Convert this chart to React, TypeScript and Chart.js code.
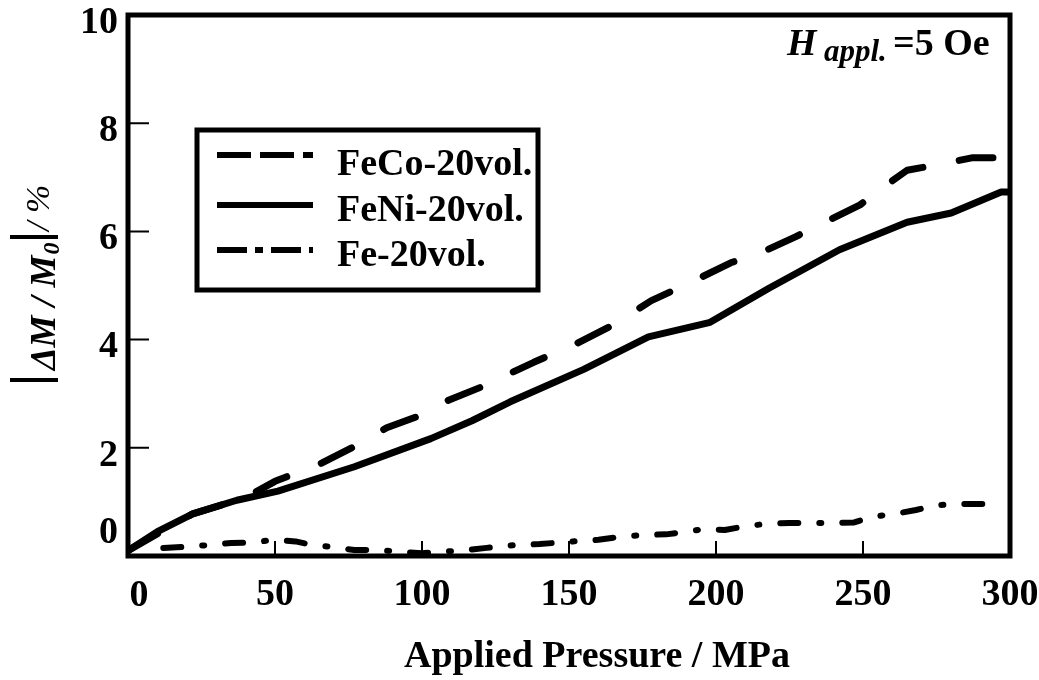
import React, { useEffect, useRef } from 'react';
import { Chart, registerables } from 'chart.js';

Chart.register(...registerables);

// ---- data ----
const feCoX = [0, 22, 40, 50, 66, 78, 88, 98, 109, 120, 138, 153, 165, 178, 193, 205, 215, 227, 237, 249, 257, 265, 275, 287, 300];
const feCoY = [0.1, 0.78, 1.08, 1.38, 1.72, 2.05, 2.37, 2.57, 2.88, 3.12, 3.58, 3.94, 4.27, 4.72, 5.1, 5.42, 5.6, 5.9, 6.17, 6.49, 6.82, 7.13, 7.23, 7.36, 7.36];

const feNiX = [0, 10, 22, 37, 51, 77, 103, 117, 130, 155, 177, 198, 218, 242, 265, 280, 297, 300];
const feNiY = [0.1, 0.45, 0.78, 1.03, 1.2, 1.65, 2.17, 2.5, 2.85, 3.45, 4.05, 4.32, 4.95, 5.66, 6.17, 6.34, 6.73, 6.73];

const feX = [12, 20, 27, 35, 42, 50, 57, 63, 69, 77, 85, 100, 115, 122, 131, 140, 149, 160, 167, 175, 183, 190, 196, 203, 210, 218, 225, 240, 247, 253, 262, 268, 275, 283, 291];
const feY = [0.15, 0.17, 0.2, 0.24, 0.25, 0.3, 0.27, 0.2, 0.17, 0.11, 0.11, 0.05, 0.11, 0.15, 0.2, 0.22, 0.26, 0.3, 0.35, 0.39, 0.4, 0.45, 0.5, 0.48, 0.55, 0.6, 0.61, 0.61, 0.62, 0.72, 0.79, 0.85, 0.94, 0.96, 0.96];

const seriesNames = ['FeCo-20vol.', 'FeNi-20vol.', 'Fe-20vol.'];
const xInnerTicks = [50, 100, 150, 200, 250];
const yInnerTicks = [2, 4, 6, 8];
const xTitle = 'Applied Pressure / MPa';
const yTitleMain = 'ΔM / M';
const yTitleSub = '0';
const yTitleUnit = '/ %';
const noteMain = 'H';
const noteSub = 'appl.';
const noteRest = '=5 Oe';

const SERIF = '"Liberation Serif", "Times New Roman", serif';

const toPts = (xs: number[], ys: number[]) => xs.map((x, i) => ({ x, y: ys[i] }));

const decorPlugin = {
  id: 'decor',
  afterDraw(chart: any) {
    const { ctx, chartArea: a, scales } = chart;
    const x = scales.x;
    const y = scales.y;
    ctx.save();
    ctx.strokeStyle = '#000';
    ctx.fillStyle = '#000';

    // frame
    ctx.lineWidth = 5;
    ctx.strokeRect(a.left, a.top, a.right - a.left, a.bottom - a.top);

    // inner ticks
    ctx.lineWidth = 2;
    ctx.beginPath();
    for (const v of xInnerTicks) {
      const px = x.getPixelForValue(v);
      ctx.moveTo(px, a.bottom);
      ctx.lineTo(px, a.bottom - 15);
    }
    for (const v of yInnerTicks) {
      const py = y.getPixelForValue(v);
      ctx.moveTo(a.left, py);
      ctx.lineTo(a.left + 21, py);
    }
    ctx.stroke();

    // zero labels (offset as in the reference)
    ctx.font = `bold 38px ${SERIF}`;
    ctx.textAlign = 'right';
    ctx.textBaseline = 'middle';
    ctx.fillText('0', 118, 533);
    ctx.textAlign = 'center';
    ctx.textBaseline = 'alphabetic';
    ctx.fillText('0', x.getPixelForValue(0) + 11, 606);

    // x title
    ctx.font = `bold 38px ${SERIF}`;
    ctx.textAlign = 'center';
    ctx.fillText(xTitle, 597, 667);

    // y title (rotated)
    ctx.save();
    ctx.translate(55, 380);
    ctx.rotate(-Math.PI / 2);
    ctx.lineWidth = 4;
    ctx.beginPath();
    ctx.moveTo(0, -45);
    ctx.lineTo(0, 3);
    ctx.moveTo(143, -45);
    ctx.lineTo(143, 3);
    ctx.stroke();
    ctx.textAlign = 'left';
    ctx.textBaseline = 'alphabetic';
    ctx.font = `italic bold 36px ${SERIF}`;
    ctx.fillText(yTitleMain, 10, 0);
    const wm = ctx.measureText(yTitleMain).width;
    ctx.font = `italic bold 24px ${SERIF}`;
    ctx.fillText(yTitleSub, 10 + wm + 1, 4);
    ctx.font = `italic 34px ${SERIF}`;
    ctx.fillText(yTitleUnit, 149, -6);
    ctx.restore();

    // annotation
    ctx.textAlign = 'left';
    ctx.textBaseline = 'alphabetic';
    ctx.font = `italic bold 38px ${SERIF}`;
    ctx.fillText(noteMain, 787, 55);
    ctx.font = `italic bold 31px ${SERIF}`;
    ctx.fillText(noteSub, 824, 61);
    ctx.font = `bold 38px ${SERIF}`;
    ctx.fillText(noteRest, 893, 55);

    // legend
    ctx.fillStyle = '#fff';
    ctx.fillRect(197, 130, 341, 160);
    ctx.fillStyle = '#000';
    ctx.lineWidth = 5;
    ctx.setLineDash([]);
    ctx.strokeRect(197, 130, 341, 160);
    const lineY = [155, 205, 250];
    const textY = [175, 221, 266];
    const dashes = [[34, 9], [], [30, 8, 8, 8]];
    ctx.lineWidth = 6;
    ctx.lineCap = 'butt';
    for (let i = 0; i < 3; i++) {
      ctx.setLineDash(dashes[i]);
      ctx.beginPath();
      ctx.moveTo(217, lineY[i]);
      ctx.lineTo(313, lineY[i]);
      ctx.stroke();
    }
    ctx.setLineDash([]);
    ctx.font = `bold 38px ${SERIF}`;
    for (let i = 0; i < 3; i++) {
      ctx.fillText(seriesNames[i], 337, textY[i]);
    }
    ctx.restore();
  },
};

export default function App() {
  const ref = useRef<HTMLCanvasElement | null>(null);
  useEffect(() => {
    if (!ref.current) return;
    const common = {
      borderColor: '#000',
      backgroundColor: '#000',
      pointRadius: 0,
      tension: 0,
      fill: false,
      borderJoinStyle: 'round' as const,
    };
    const chart = new Chart(ref.current, {
      type: 'line',
      data: {
        datasets: [
          { ...common, label: seriesNames[0], data: toPts(feCoX, feCoY), borderWidth: 7, borderDash: [34, 37], borderCapStyle: 'round' },
          { ...common, label: seriesNames[1], data: toPts(feNiX, feNiY), borderWidth: 7, borderCapStyle: 'round' },
          { ...common, label: seriesNames[2], data: toPts(feX, feY), borderWidth: 6, borderDash: [18, 21, 2, 21], borderCapStyle: 'round' },
        ] as any,
      },
      options: {
        animation: false,
        responsive: false,
        events: [],
        layout: { padding: { top: 15, right: 29, left: 0, bottom: 0 } },
        plugins: { legend: { display: false }, tooltip: { enabled: false }, title: { display: false } },
        scales: {
          x: {
            type: 'linear',
            min: 0,
            max: 300,
            grid: { display: false, drawTicks: false },
            border: { display: false },
            ticks: {
              stepSize: 50,
              padding: 16,
              color: '#000',
              font: { family: SERIF, size: 38, weight: 'bold' },
              maxRotation: 0,
              callback: (v: any) => (v === 0 ? '' : String(v)),
            },
            afterFit: (s: any) => {
              s.height = 124;
              s.paddingLeft = 0;
              s.paddingRight = 0;
            },
          },
          y: {
            type: 'linear',
            min: 0,
            max: 10,
            grid: { display: false, drawTicks: false },
            border: { display: false },
            ticks: {
              stepSize: 2,
              padding: 10,
              labelOffset: 8,
              color: '#000',
              font: { family: SERIF, size: 38, weight: 'bold' },
              callback: (v: any) => (v === 0 ? '' : String(v)),
            },
            afterFit: (s: any) => {
              s.width = 128;
              s.paddingTop = 0;
              s.paddingBottom = 0;
            },
          },
        },
      } as any,
      plugins: [decorPlugin],
    });
    return () => chart.destroy();
  }, []);
  return (
    <div style={{ position: 'absolute', left: 0, top: 0, width: 1039, height: 680, background: '#fff' }}>
      <canvas ref={ref} width={1039} height={680} style={{ display: 'block' }} />
    </div>
  );
}
